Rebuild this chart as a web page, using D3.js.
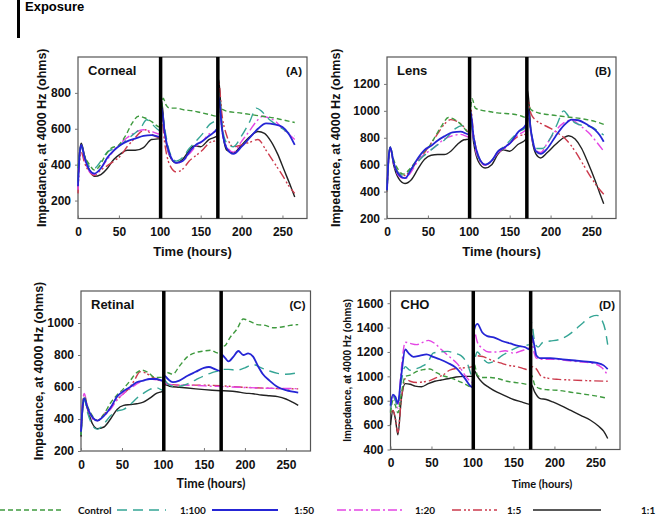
<!DOCTYPE html>
<html><head><meta charset="utf-8">
<script src="https://cdnjs.cloudflare.com/ajax/libs/d3/7.8.5/d3.min.js"></script>
<style>body{margin:0;background:#fff}svg{display:block}</style>
</head><body><svg id="c" width="657" height="515"></svg>
<script>
// ---------- data ----------
const seriesNames = ["Control","1:100","1:50","1:20","1:5","1:1"];
const xTicks = [0,50,100,150,200,250];
const exposureTimes = [101,171];
const panelTitles = ["Corneal","Lens","Retinal","CHO"];
const panelTags = ["(A)","(B)","(C)","(D)"];
const cornealTicks = [200,400,600,800];
const lensTicks = [200,400,600,800,1000,1200];
const retinalTicks = [200,400,600,800,1000];
const choTicks = [400,600,800,1000,1200,1400,1600];

const cornealControl=[[0,380],[2,470],[4,510],[8,450],[14,400],[20,370],[26,390],[32,440],[40,490],[50,510],[58,560],[66,630],[74,670],[82,660],[90,640],[100,610],[102,700],[104,770],[108,730],[112,715],[120,715],[130,705],[140,700],[150,690],[160,680],[170,670],[172,760],[176,710],[185,695],[195,690],[210,680],[225,670],[240,660],[250,650],[265,635]];
const corneal100=[[0,300],[2,450],[4,500],[8,440],[14,390],[20,380],[28,420],[36,470],[44,490],[52,510],[60,540],[68,570],[76,600],[84,650],[92,620],[100,590],[102,700],[106,600],[112,470],[120,420],[128,440],[136,490],[144,530],[152,570],[160,620],[170,660],[172,800],[176,620],[182,520],[190,500],[200,560],[210,640],[218,715],[224,700],[232,660],[240,630],[250,600],[260,570],[265,560]];
const corneal50=[[0,280],[2,460],[4,510],[8,440],[14,370],[20,350],[28,380],[36,440],[44,480],[52,510],[60,530],[70,545],[80,560],[90,565],[100,555],[102,720],[106,580],[112,460],[120,410],[128,420],[136,470],[144,510],[152,530],[160,560],[170,600],[172,780],[176,600],[182,490],[190,460],[200,500],[210,550],[220,600],[230,630],[240,625],[250,610],[258,570],[265,510]];
const corneal20=[[0,260],[2,450],[4,500],[8,430],[14,360],[20,345],[28,380],[36,430],[44,480],[52,520],[60,550],[70,580],[80,595],[90,585],[100,570],[102,700],[106,570],[112,450],[120,410],[128,420],[136,460],[144,500],[152,530],[160,570],[170,590],[172,760],[176,590],[182,500],[190,470],[200,530],[210,590],[218,640],[226,670],[234,660],[242,640],[250,600],[258,570],[265,540]];
const corneal5=[[0,240],[2,420],[4,470],[8,410],[14,360],[20,340],[28,370],[36,395],[44,420],[52,450],[60,500],[68,540],[76,580],[82,595],[90,570],[100,550],[102,680],[106,520],[112,400],[120,360],[128,375],[136,420],[144,450],[152,480],[160,520],[170,540],[172,860],[176,680],[182,560],[190,500],[200,510],[210,525],[220,540],[230,480],[240,410],[250,340],[258,280],[265,240]];
const corneal1=[[0,300],[2,470],[4,520],[8,450],[14,370],[20,335],[28,345],[36,380],[44,430],[52,460],[60,480],[70,480],[80,495],[90,540],[100,545],[102,760],[106,580],[112,450],[120,410],[128,430],[136,480],[142,505],[150,500],[160,540],[170,560],[172,875],[176,620],[182,480],[190,465],[200,510],[210,555],[220,585],[228,575],[236,530],[244,460],[252,370],[260,280],[265,220]];

const lensControl=[[0,400],[2,650],[4,730],[8,640],[14,560],[20,530],[28,570],[36,630],[44,690],[52,740],[60,820],[68,900],[75,950],[84,930],[92,890],[100,840],[102,1000],[104,1090],[108,1020],[115,1005],[125,995],[135,985],[145,980],[155,975],[165,960],[170,950],[172,1050],[176,1010],[185,985],[200,970],[220,955],[240,940],[255,920],[265,900]];
const lens100=[[0,420],[2,650],[4,730],[8,620],[14,540],[20,520],[28,560],[36,610],[44,660],[52,700],[60,740],[68,770],[76,820],[84,870],[92,890],[100,860],[102,950],[106,800],[112,650],[120,600],[128,630],[136,700],[144,740],[152,790],[160,840],[170,880],[172,1000],[176,850],[182,720],[190,720],[200,800],[208,900],[216,1000],[222,960],[230,910],[240,890],[250,880],[258,850],[265,820]];
const lens50=[[0,410],[2,650],[4,730],[8,620],[14,530],[22,500],[30,570],[38,650],[46,710],[54,740],[62,780],[70,810],[80,840],[90,845],[100,825],[102,1000],[106,800],[112,660],[120,600],[128,630],[136,700],[144,730],[152,770],[160,840],[170,900],[172,1020],[176,850],[182,700],[188,680],[196,720],[206,810],[216,890],[226,935],[234,930],[244,900],[254,860],[260,820],[265,770]];
const lens20=[[0,400],[2,640],[4,720],[8,610],[14,520],[22,495],[30,550],[38,630],[46,680],[54,710],[62,750],[70,790],[80,815],[90,825],[100,805],[102,980],[106,780],[112,640],[120,595],[128,625],[136,690],[144,720],[152,770],[160,820],[170,860],[172,1000],[176,830],[182,710],[188,690],[196,760],[206,850],[216,910],[226,930],[236,890],[246,840],[256,770],[265,700]];
const lens5=[[0,400],[2,640],[4,720],[8,610],[14,540],[22,520],[30,570],[38,630],[46,690],[54,760],[62,830],[70,900],[78,935],[86,920],[94,880],[100,840],[102,1030],[106,820],[112,660],[120,600],[128,630],[136,700],[144,730],[152,770],[160,810],[170,830],[172,1080],[176,980],[182,930],[190,900],[200,870],[210,830],[220,780],[230,700],[240,600],[250,500],[258,430],[265,380]];
const lens1=[[0,400],[2,640],[4,730],[8,600],[14,500],[22,460],[30,490],[38,570],[46,640],[54,670],[62,675],[70,675],[78,700],[86,750],[94,785],[100,790],[102,960],[106,760],[112,620],[120,575],[128,600],[136,680],[142,710],[150,700],[160,750],[170,790],[172,1150],[176,850],[182,680],[188,650],[196,690],[206,750],[216,800],[222,815],[230,790],[238,720],[246,610],[254,490],[260,390],[265,310]];

const retinalControl=[[0,300],[2,480],[4,540],[8,480],[14,420],[20,390],[28,430],[36,500],[44,550],[52,590],[60,640],[68,690],[74,705],[82,690],[90,660],[100,660],[102,700],[106,690],[112,680],[120,730],[130,790],[140,815],[150,825],[158,830],[165,815],[170,810],[172,850],[176,860],[182,910],[190,960],[198,1025],[206,1010],[215,990],[225,985],[235,970],[245,975],[255,985],[265,990]];
const retinal100=[[0,300],[2,460],[4,520],[8,440],[14,360],[20,335],[28,370],[36,420],[44,450],[52,460],[60,490],[68,530],[76,560],[84,585],[92,595],[100,580],[102,640],[106,620],[112,605],[120,605],[130,620],[140,645],[150,670],[160,690],[170,705],[172,710],[180,710],[190,705],[200,720],[210,740],[220,720],[230,700],[240,685],[250,680],[265,690]];
const retinal50=[[0,320],[2,480],[4,530],[8,470],[14,410],[20,390],[28,420],[36,470],[44,540],[52,575],[60,600],[68,630],[76,640],[84,650],[92,650],[100,640],[102,670],[106,650],[112,630],[120,640],[130,670],[140,695],[150,720],[156,725],[164,710],[170,700],[172,800],[176,780],[180,760],[186,790],[192,825],[198,800],[204,810],[210,790],[216,730],[222,680],[230,640],[240,600],[250,580],[265,565]];
const retinal20=[[0,330],[2,500],[4,560],[8,470],[14,400],[20,390],[28,420],[36,460],[44,520],[52,560],[60,590],[68,620],[76,640],[84,650],[92,645],[100,635],[102,625],[110,615],[120,612],[140,610],[160,605],[170,603],[200,597],[230,592],[265,590]];
const retinal5=[[0,310],[2,490],[4,550],[8,470],[14,410],[20,390],[28,430],[36,470],[44,520],[52,560],[60,600],[66,650],[72,695],[78,690],[86,665],[94,645],[100,630],[102,622],[110,615],[120,612],[140,612],[160,610],[170,608],[200,598],[230,592],[265,588]];
const retinal1=[[0,290],[2,460],[4,530],[8,460],[14,370],[20,340],[28,350],[36,400],[44,460],[52,485],[60,490],[68,495],[76,505],[84,530],[92,560],[100,575],[102,615],[108,605],[120,598],[140,588],[160,580],[170,577],[180,575],[190,570],[200,562],[210,558],[220,550],[230,545],[240,540],[250,525],[258,505],[265,485]];

const choControl=[[0,700],[3,800],[6,760],[9,700],[13,850],[18,1000],[24,1010],[32,1040],[40,1055],[48,1060],[56,1030],[64,1005],[72,990],[80,970],[90,940],[100,910],[102,1100],[106,1010],[112,990],[122,990],[132,980],[142,960],[152,950],[162,940],[170,930],[172,1010],[176,930],[182,900],[192,890],[205,885],[220,870],[235,855],[250,840],[265,820]];
const cho100=[[0,710],[3,840],[6,800],[9,760],[13,950],[18,1080],[24,1050],[30,1060],[38,1080],[46,1120],[52,1190],[60,1200],[70,1205],[78,1190],[86,1170],[94,1100],[100,1000],[102,1100],[106,1200],[112,1150],[120,1110],[128,1130],[136,1170],[144,1200],[152,1230],[160,1250],[170,1260],[172,1440],[176,1280],[180,1240],[186,1280],[195,1290],[205,1300],[215,1330],[225,1380],[235,1440],[245,1490],[252,1500],[258,1460],[262,1380],[265,1260]];
const cho50=[[0,760],[3,850],[6,830],[9,780],[13,1000],[18,1220],[22,1190],[28,1160],[36,1170],[44,1180],[52,1160],[60,1140],[70,1110],[80,1070],[90,990],[100,910],[102,1380],[106,1430],[112,1360],[118,1330],[126,1320],[136,1290],[146,1270],[156,1250],[164,1240],[170,1220],[172,1340],[175,1270],[178,1170],[182,1150],[195,1150],[210,1140],[225,1130],[240,1120],[252,1110],[260,1090],[265,1060]];
const cho20=[[0,720],[3,850],[6,800],[9,740],[13,1050],[18,1280],[24,1270],[32,1260],[40,1280],[46,1295],[54,1270],[62,1220],[72,1160],[82,1100],[92,1000],[100,950],[102,1370],[106,1280],[112,1230],[120,1200],[130,1200],[140,1210],[150,1190],[160,1210],[170,1240],[172,1300],[175,1200],[178,1150],[185,1140],[200,1140],[215,1130],[230,1120],[245,1110],[258,1070],[265,1010]];
const cho5=[[0,700],[3,720],[6,650],[9,540],[13,800],[18,980],[24,960],[32,950],[40,955],[48,965],[56,990],[64,1010],[72,1050],[80,1065],[90,1070],[100,1080],[102,1180],[106,1170],[114,1160],[124,1130],[134,1110],[144,1090],[154,1080],[164,1060],[170,1050],[172,1080],[178,1060],[184,1000],[192,985],[205,975],[220,970],[240,965],[265,960]];
const cho1=[[0,600],[3,720],[6,650],[9,520],[13,800],[18,940],[24,935],[30,920],[38,915],[46,940],[54,960],[62,970],[70,980],[80,995],[90,1000],[100,1000],[102,1050],[106,1000],[112,950],[120,910],[130,870],[140,840],[150,810],[160,790],[170,770],[172,930],[176,870],[182,820],[190,810],[198,790],[208,760],[220,720],[232,680],[244,640],[254,590],[260,550],[265,490]];

// ---------- styles / layout ----------
const styles = [
  {color:"#3f9a3f", dash:"5,3", w:1.4},
  {color:"#35a595", dash:"10,6", w:1.4},
  {color:"#2525d5", dash:null, w:1.8},
  {color:"#e445e4", dash:"9,3,2,3", w:1.4},
  {color:"#cc3a4c", dash:"9,3,2,2,2,3", w:1.4},
  {color:"#222222", dash:null, w:1.4}
];
const panels = [
  {x0:78, y0:57, w:229, h:161.5, dom:[100,1000], ticks:cornealTicks, data:[cornealControl,corneal100,corneal50,corneal20,corneal5,corneal1], ylx:42, xlab:{x:192.5, y:252, font:"Liberation Sans", size:13}, ylabSize:12.5},
  {x0:387, y0:57, w:229, h:161.5, dom:[200,1400], ticks:lensTicks, data:[lensControl,lens100,lens50,lens20,lens5,lens1], ylx:336, xlab:{x:501.5, y:252, font:"Liberation Sans", size:13}, ylabSize:12.5},
  {x0:81, y0:291, w:229.5, h:160, dom:[200,1200], ticks:retinalTicks, data:[retinalControl,retinal100,retinal50,retinal20,retinal5,retinal1], ylx:39, xlab:{x:211, y:484, font:"Lato", size:12.5}, ylabSize:12.5},
  {x0:390.5, y0:291, w:229.5, h:158.5, dom:[400,1700], ticks:choTicks, data:[choControl,cho100,cho50,cho20,cho5,cho1], ylx:347, xlab:{x:542, y:484, font:"Lato", size:11}, ylabSize:10}
];

const svg = d3.select("#c");
const F = "'Liberation Sans', Arial, sans-serif";

// title
svg.append("rect").attr("x",17).attr("y",0).attr("width",3).attr("height",38).attr("fill","#000");
svg.append("text").attr("x",25).attr("y",11).attr("font-family",F).attr("font-weight","bold")
  .attr("font-size",13).text("Exposure");

panels.forEach((p,i)=>{
  const x = d3.scaleLinear().domain([0,280]).range([p.x0,p.x0+p.w]);
  const y = d3.scaleLinear().domain(p.dom).range([p.y0+p.h,p.y0]);
  const g = svg.append("g");
  g.append("rect").attr("x",p.x0).attr("y",p.y0).attr("width",p.w).attr("height",p.h)
    .attr("fill","none").attr("stroke","#555").attr("stroke-width",1.2);
  const ya = g.append("g").attr("transform",`translate(${p.x0},0)`)
    .call(d3.axisLeft(y).tickValues(p.ticks).tickFormat(d3.format("d")).tickSize(3).tickPadding(4));
  ya.select(".domain").remove();
  ya.selectAll("line").attr("stroke","#777");
  ya.selectAll("text").attr("font-family",F).attr("font-weight","bold").attr("font-size",12).attr("fill","#111");
  const xa = g.append("g").attr("transform",`translate(0,${p.y0+p.h})`)
    .call(d3.axisBottom(x).tickValues(xTicks).tickFormat(d3.format("d")).tickSize(-3).tickPadding(9));
  xa.select(".domain").remove();
  xa.selectAll("line").attr("stroke","#777");
  xa.selectAll("text").attr("font-family",F).attr("font-weight","bold").attr("font-size",12).attr("fill","#111");
  const line = d3.line().x(d=>x(d[0])).y(d=>y(d[1])).curve(d3.curveMonotoneX);
  const order = [5,4,3,1,0,2];
  order.forEach(k=>{
    const s = styles[k];
    g.append("path").datum(p.data[k]).attr("d",line).attr("fill","none")
      .attr("stroke",s.color).attr("stroke-width",s.w).attr("stroke-dasharray",s.dash)
      .attr("stroke-linejoin","round");
  });
  exposureTimes.forEach(t=>{
    g.append("line").attr("x1",x(t)).attr("x2",x(t)).attr("y1",p.y0).attr("y2",p.y0+p.h)
      .attr("stroke","#000").attr("stroke-width",3.5);
  });
  g.append("text").attr("x",p.x0+10).attr("y",p.y0+18).attr("font-family",F).attr("font-weight","bold")
    .attr("font-size",13).attr("fill","#111").text(panelTitles[i]);
  g.append("text").attr("x",p.x0+p.w-5).attr("y",p.y0+18).attr("text-anchor","end").attr("font-family",F)
    .attr("font-weight","bold").attr("font-size",11.5).attr("fill","#111").text(panelTags[i]);
  g.append("text").attr("x",p.xlab.x).attr("y",p.xlab.y+4).attr("text-anchor","middle")
    .attr("font-family",`'${p.xlab.font}', sans-serif`).attr("font-weight","bold").attr("font-size",p.xlab.size)
    .attr("fill","#111").text("Time (hours)");
  g.append("text").attr("transform",`translate(${p.ylx},${p.y0+p.h/2}) rotate(-90)`).attr("text-anchor","middle")
    .attr("dy","0.35em").attr("font-family",F).attr("font-weight","bold").attr("font-size",p.ylabSize)
    .attr("fill","#111").text("Impedance, at 4000 Hz (ohms)");
});

// legend
const legX = [[0,63,78],[117,166,180],[212,278,294],[337,402,415],[452,497,507],[533,601,641]];
seriesNames.forEach((n,k)=>{
  const s = styles[k], L = legX[k], ly = 510;
  svg.append("line").attr("x1",L[0]).attr("x2",L[1]).attr("y1",ly).attr("y2",ly)
    .attr("stroke",s.color).attr("stroke-width",s.w).attr("stroke-dasharray",s.dash);
  svg.append("text").attr("x",L[2]).attr("y",ly+3.5).attr("font-family","Lato, sans-serif")
    .attr("font-weight","bold").attr("font-size",10).attr("fill","#111").text(n);
});
</script></body></html>
